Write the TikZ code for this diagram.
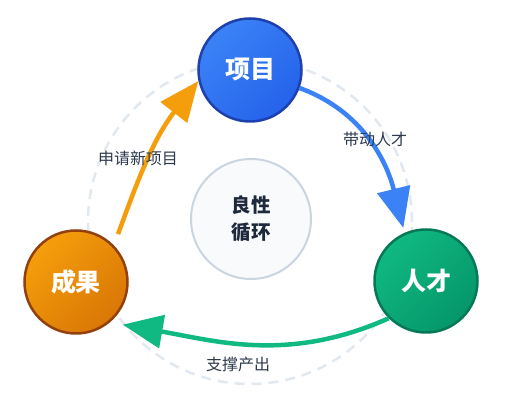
\documentclass[tikz,border=0pt]{standalone}
\usepackage{fontspec}
\setmainfont{Noto Sans CJK SC}
\usetikzlibrary{arrows.meta}
\definecolor{blueA}    {HTML}{3B82F6}
\definecolor{blueB}    {HTML}{2563EB}
\definecolor{blueEdge} {HTML}{1E40AF}
\definecolor{amberA}   {HTML}{F59E0B}
\definecolor{amberB}   {HTML}{D97706}
\definecolor{amberEdge}{HTML}{92400E}
\definecolor{greenA}   {HTML}{10B981}
\definecolor{greenB}   {HTML}{059669}
\definecolor{greenEdge}{HTML}{047857}
\definecolor{ring}     {HTML}{E2E8F0}
\definecolor{hubFill}  {HTML}{F8FAFC}
\definecolor{hubEdge}  {HTML}{CBD5E1}
\definecolor{ink}      {HTML}{1E293B}
\definecolor{slate}    {HTML}{2D3A4E}
\tikzset{
  stage/.style={circle, minimum size=103pt, inner sep=0pt, line width=2.5pt,
                text=white, font=\fontsize{25}{25}\selectfont\bfseries},
  hub/.style={circle, minimum size=120pt, inner sep=0pt, line width=2pt,
              draw=hubEdge, fill=hubFill, align=center, text=ink,
              font=\fontsize{19.5}{27}\selectfont\bfseries},
  flow/.style={line width=4.5pt, -{Triangle[length=40pt,width=33pt]}},
  cue/.style={font=\fontsize{16}{16}\selectfont, text=slate},
}

\begin{document}
\begin{tikzpicture}[x=1pt,y=1pt]
  \useasboundingbox[fill=white] (0,0) rectangle (515,415);
  \draw[ring, line width=2.5pt, dash pattern=on 10pt off 7pt] (250,193) circle[radius=162];
  \node[hub] (hub) at (251,196) {良性\\循环};
  \node[stage, draw=blueEdge, top color=blueA, bottom color=blueB, shading angle=45]
    (proj) at (250,345) {项目};
  \node[stage, draw=greenEdge, top color=greenA, bottom color=greenB, shading angle=45]
    (talent) at (426,134) {人才};
  \node[stage, draw=amberEdge, top color=amberA, bottom color=amberB, shading angle=45]
    (result) at (76,133) {成果};
  \draw[flow, blueA, shorten >=5pt] (proj.-20) to[out=-20, in=104] (talent.114);
  \draw[flow, greenA, shorten >=13pt] (talent.225) to[out=204, in=-10] (result.-50);
  \draw[flow, amberA, shorten <=12pt] (result.44) to[out=70, in=232] (proj.192);
  \node[cue] (lblTalent) at (375,276) {带动人才};
  \node[cue] (lblProj) at (138,257) {申请新项目};
  \node[cue] (lblOut) at (238,51) {支撑产出};
\end{tikzpicture}
\end{document}
